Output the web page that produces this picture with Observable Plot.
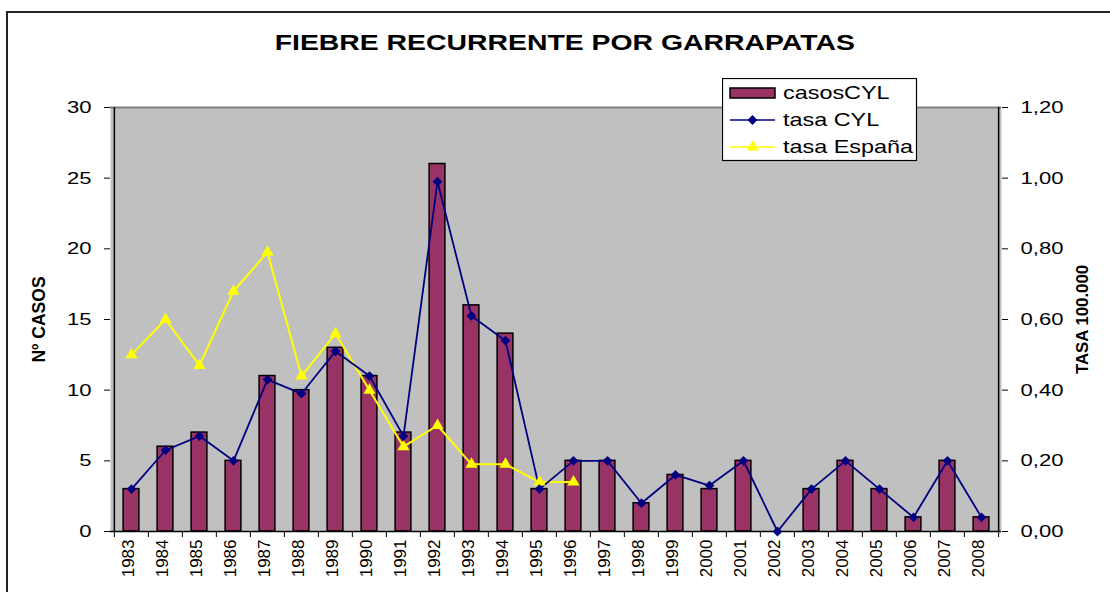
<!DOCTYPE html>
<html>
<head>
<meta charset="utf-8">
<script src="https://cdn.jsdelivr.net/npm/d3@7"></script>
<script src="https://cdn.jsdelivr.net/npm/@observablehq/plot@0.6"></script>
<style>
  html, body { margin: 0; padding: 0; background: #fff; overflow: hidden; }
  #wrap { position: relative; width: 1110px; height: 592px; overflow: hidden; font-family: "Liberation Sans", Arial, sans-serif; }
  #border { position: absolute; left: 6px; top: 11px; width: 1300px; height: 800px; border-top: 2px solid #222; border-left: 2px solid #222; }
  #title { position: absolute; left: 0; top: 31px; width: 1130px; text-align: center; font-weight: bold; font-size: 21.5px; line-height: 24px; color: #000; }
  #title span { display: inline-block; transform: scaleX(1.32); transform-origin: center; }
  #chart { position: absolute; left: 0; top: 0; }
  #legend { position: absolute; left: 722px; top: 78px; }
</style>
</head>
<body>
<div id="wrap">
  <div id="border"></div>
  <div id="chart"></div>
  <div id="title"><span>FIEBRE RECURRENTE POR GARRAPATAS</span></div>
  <div id="legend"></div>
</div>
<script>
// ---- data ----
const years = ["1983","1984","1985","1986","1987","1988","1989","1990","1991","1992","1993","1994","1995","1996","1997","1998","1999","2000","2001","2002","2003","2004","2005","2006","2007","2008"];
const casosCYL = [3, 6, 7, 5, 11, 10, 13, 11, 7, 26, 16, 14, 3, 5, 5, 2, 4, 3, 5, 0, 3, 5, 3, 1, 5, 1];
const tasaCYL = [0.12, 0.23, 0.27, 0.20, 0.43, 0.39, 0.51, 0.44, 0.27, 0.99, 0.61, 0.54, 0.12, 0.20, 0.20, 0.08, 0.16, 0.13, 0.20, 0.00, 0.12, 0.20, 0.12, 0.04, 0.20, 0.04];
const yearsEsp = ["1983","1984","1985","1986","1987","1988","1989","1990","1991","1992","1993","1994","1995","1996"];
const tasaEspana = [0.50, 0.60, 0.47, 0.68, 0.79, 0.44, 0.56, 0.40, 0.24, 0.30, 0.19, 0.19, 0.14, 0.14];
const leftTicks = [0, 5, 10, 15, 20, 25, 30];
const rightTicks = [0, 0.2, 0.4, 0.6, 0.8, 1.0, 1.2];
const seriesNames = ["casosCYL", "tasa CYL", "tasa España"];
const titleY = "Nº CASOS";
const titleY2 = "TASA 100.000";

// ---- layout ----
const W = 1110, H = 592;
const mL = 110, mR = 109, mT = 107, mB = 61;
const bw = (W - mL - mR) / years.length;
const ratio = leftTicks[leftTicks.length - 1] / rightTicks[rightTicks.length - 1];

const cRows = years.map((y, i) => ({year: y, casos: casosCYL[i], tasa: tasaCYL[i]}));
const eRows = yearsEsp.map((y, i) => ({year: y, tasa: tasaEspana[i]}));

const barColor = "#993366", navy = "#000080", yellow = "#FFFF00";

const plot = Plot.plot({
  width: W, height: H,
  marginLeft: mL, marginRight: mR, marginTop: mT, marginBottom: mB,
  style: {fontFamily: '"Liberation Sans", Arial, sans-serif', fontSize: "17px", background: "transparent", overflow: "visible", color: "#000"},
  x: {type: "band", domain: years, padding: 0, axis: null},
  y: {domain: [0, 30], axis: null},
  marks: [
    Plot.frame({fill: "#c0c0c0"}),
    Plot.ruleY([30], {stroke: "#808080", strokeWidth: 2}),
    Plot.barY(cRows, {x: "year", y: "casos", fill: barColor, stroke: "#000", strokeWidth: 1.5, insetLeft: 9.1, insetRight: 9.1}),
    Plot.ruleY([0], {stroke: "#000", strokeWidth: 1.5}),
    Plot.ruleX([years[0]], {dx: -bw / 2, y1: 0, y2: 30, stroke: "#000", strokeWidth: 1.5}),
    Plot.ruleX([years[years.length - 1]], {dx: bw / 2, y1: 0, y2: 30, stroke: "#000", strokeWidth: 1.5}),
    // x ticks at category boundaries
    Plot.axisX({tickSize: 6, tickFormat: () => "", dx: -bw / 2, label: null, stroke: "#000"}),
    Plot.axisX({ticks: [years[years.length - 1]], tickSize: 6, tickFormat: () => "", dx: bw / 2, label: null, stroke: "#000"}),
    // x labels
    Plot.axisX({tickSize: 0, tickPadding: 8, tickRotate: -90, fontSize: 17, label: null, dx: -3}),
    // left axis
    Plot.axisY({anchor: "left", ticks: leftTicks, tickSize: 6, tickPadding: 13, fontSize: 17, label: null, stroke: "#000"}),
    // right axis
    Plot.axisY({anchor: "right", ticks: rightTicks.map(t => t * ratio), tickSize: 6, tickPadding: 13, fontSize: 17, label: null, stroke: "#000",
      tickFormat: d => (d / ratio).toFixed(2).replace(".", ",")}),
    Plot.text([titleY], {text: d => d, frameAnchor: "left", textAnchor: "middle", dx: -71, rotate: -90, fontWeight: "bold", fontSize: 17.5}),
    Plot.text([titleY2], {text: d => d, frameAnchor: "right", textAnchor: "middle", dx: 81, rotate: -90, fontWeight: "bold", fontSize: 16.8}),
    // lines
    Plot.line(eRows, {x: "year", y: d => d.tasa * ratio, stroke: yellow, strokeWidth: 2}),
    Plot.line(cRows, {x: "year", y: d => d.tasa * ratio, stroke: navy, strokeWidth: 1.8}),
    Plot.dot(eRows, {x: "year", y: d => d.tasa * ratio, symbol: "triangle", r: 4.5, fill: yellow, stroke: null}),
    Plot.dot(cRows, {x: "year", y: d => d.tasa * ratio, symbol: "diamond2", r: 4.4, fill: navy, stroke: null})
  ]
});
document.getElementById("chart").appendChild(plot);

// widen horizontal tick labels to match the reference's wide rendering
d3.select(plot).selectAll('g[aria-label="y-axis tick label"] text').each(function() {
  const t = this.getAttribute("transform");
  if (t) {
    this.setAttribute("transform", t + " scale(1.3,1)");
  } else {
    const x = +this.getAttribute("x") || 0, y = +this.getAttribute("y") || 0;
    this.setAttribute("x", 0); this.setAttribute("y", 0);
    this.setAttribute("transform", `translate(${x},${y}) scale(1.3,1)`);
  }
});

// ---- legend ----
const lg = d3.select("#legend").append("svg").attr("width", 196).attr("height", 84)
  .style("font-family", '"Liberation Sans", Arial, sans-serif');
lg.append("rect").attr("x", 0.5).attr("y", 0.5).attr("width", 194).attr("height", 82).attr("fill", "#fff").attr("stroke", "#000").attr("stroke-width", 1.2);
const rowsY = [15, 42, 69];
lg.append("rect").attr("x", 8).attr("y", rowsY[0] - 5).attr("width", 45).attr("height", 10).attr("fill", barColor).attr("stroke", "#000").attr("stroke-width", 1.5);
lg.append("line").attr("x1", 8).attr("x2", 53).attr("y1", rowsY[1]).attr("y2", rowsY[1]).attr("stroke", navy).attr("stroke-width", 1.5);
lg.append("path").attr("d", d3.symbol(d3.symbolDiamond2, 4.4 * 4.4 * Math.PI)()).attr("transform", `translate(30.5,${rowsY[1]})`).attr("fill", navy);
lg.append("line").attr("x1", 8).attr("x2", 53).attr("y1", rowsY[2]).attr("y2", rowsY[2]).attr("stroke", yellow).attr("stroke-width", 1.5);
lg.append("path").attr("d", d3.symbol(d3.symbolTriangle, 4.5 * 4.5 * Math.PI)()).attr("transform", `translate(31,${rowsY[2]})`).attr("fill", yellow);
seriesNames.forEach((name, i) => {
  lg.append("text").attr("transform", `translate(61,${rowsY[i] + 6.4}) scale(1.3,1)`).attr("font-size", 18).attr("fill", "#000").text(name);
});
</script>
</body>
</html>
